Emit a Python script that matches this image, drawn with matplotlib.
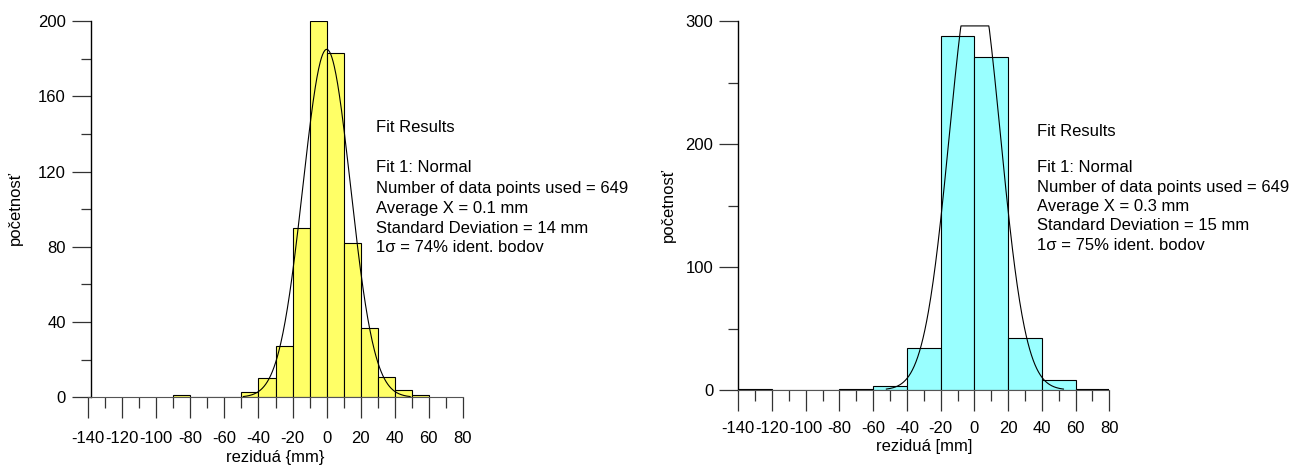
import numpy as np
import matplotlib.pyplot as plt

plt.rcParams['font.family'] = ['Liberation Sans', 'DejaVu Sans']
plt.rcParams['axes.unicode_minus'] = False

# left histogram (bin width 10)
edges_1 = [-90, -80, -70, -60, -50, -40, -30, -20, -10, 0, 10, 20, 30, 40, 50]
counts_1 = [1, 0, 0, 0, 3, 10, 27, 90, 200, 183, 82, 37, 11, 4, 1]
n_1, mean_1, std_1 = 649, 0.1, 14

# right histogram (bin width 20)
edges_2 = [-140, -120, -100, -80, -60, -40, -20, 0, 20, 40, 60]
counts_2 = [1, 0, 0, 1, 3, 34, 288, 271, 42, 8, 1]
n_2, mean_2, std_2 = 649, 0.3, 15

text_1 = ["Fit 1: Normal", "Number of data points used = 649", "Average X = 0.1 mm",
          "Standard Deviation = 14 mm", "1σ = 74% ident. bodov"]
text_2 = ["Fit 1: Normal", "Number of data points used = 649", "Average X = 0.3 mm",
          "Standard Deviation = 15 mm", "1σ = 75% ident. bodov"]

W, H = 1298, 468
fig = plt.figure(figsize=(W / 100, H / 100), dpi=100)
FS = 12


def panel(rect, edges, counts, bw, color, n, mean, std, ymax, ymajor, yclip, xlabel, spine_x, xpad, lpad):
    ax = fig.add_axes(rect)
    ax.bar(edges, counts, width=bw, align='edge', color=color, edgecolor='black', linewidth=0.8)
    x = np.linspace(mean - 3.5 * std, mean + 3.5 * std, 300)
    y = n * bw / (std * np.sqrt(2 * np.pi)) * np.exp(-0.5 * ((x - mean) / std) ** 2)
    ax.plot(x, np.minimum(y, yclip), color='black', linewidth=0.8)
    ax.set_xlim(-140, 80)
    ax.set_ylim(0, ymax)
    for s in ['top', 'right']:
        ax.spines[s].set_visible(False)
    ax.spines['left'].set_position(('data', spine_x))
    ax.spines['left'].set_linewidth(1.0)
    ax.spines['bottom'].set_color('#555555')
    ax.set_xticks(np.arange(-140, 81, 20))
    ax.set_xticks(np.arange(-130, 81, 20), minor=True)
    ax.set_yticks(np.arange(0, ymax + 1, ymajor))
    ax.set_yticks(np.arange(ymajor / 2, ymax, ymajor), minor=True)
    ax.tick_params(axis='x', which='major', length=15, width=0.9, color='#333333', labelsize=FS, pad=xpad)
    ax.tick_params(axis='x', which='minor', length=8, width=0.9, color='#333333')
    ax.tick_params(axis='y', which='major', length=14, width=0.9, color='#333333', labelsize=FS, pad=4)
    ax.tick_params(axis='y', which='minor', length=7, width=0.9, color='#333333')
    ax.set_xlabel(xlabel, fontsize=FS, labelpad=lpad)
    return ax


ax1 = panel([88.3 / W, 1 - 397.3 / H, 374.4 / W, 376.3 / H], edges_1, counts_1, 10, '#FFFF66',
            n_1, mean_1, std_1, 200, 40, 1000, "reziduá {mm}", -138.6, 9, 3)
ax2 = panel([738.3 / W, 1 - 390 / H, 371 / W, 369 / H], edges_2, counts_2, 20, '#99FFFF',
            n_2, mean_2, std_2, 300, 100, 296, "reziduá [mm]", -140, 7, 2.5)

fig.text(15 / W, 1 - 208 / H, "početnosť", rotation=90, ha='center', va='center', fontsize=FS)
fig.text(668 / W, 1 - 205 / H, "početnosť", rotation=90, ha='center', va='center', fontsize=FS)

fig.text(376 / W, 1 - 128 / H, "Fit Results", ha='left', va='center', fontsize=FS)
for i, line in enumerate(text_1):
    fig.text(376 / W, 1 - (168 + 20 * i) / H, line, ha='left', va='center', fontsize=FS)

fig.text(1037 / W, 1 - 131 / H, "Fit Results", ha='left', va='center', fontsize=FS)
for i, line in enumerate(text_2):
    fig.text(1037 / W, 1 - (168 + 19.3 * i) / H, line, ha='left', va='center', fontsize=FS)

fig.savefig('out.png', dpi=100)
